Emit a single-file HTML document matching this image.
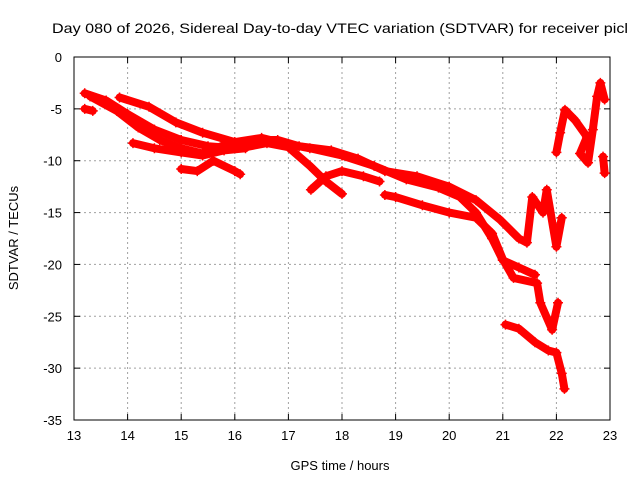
<!DOCTYPE html>
<html><head><meta charset="utf-8"><style>
body{margin:0;background:#fff;width:640px;height:480px;overflow:hidden}
svg{font-family:"Liberation Sans",sans-serif}
</style></head><body>
<svg id="c" width="640" height="480">
<text x="52" y="33" font-size="14" textLength="576" lengthAdjust="spacingAndGlyphs">Day 080 of 2026, Sidereal Day-to-day VTEC variation (SDTVAR) for receiver picl</text>
<text x="340" y="470" font-size="13" text-anchor="middle">GPS time / hours</text>
<text x="18" y="238" font-size="13" text-anchor="middle" transform="rotate(-90 18 238)">SDTVAR / TECUs</text>
<g id="grid"></g>
<g id="axes"></g>
<g id="marks"></g>
</svg>
<script>
const xTicks=[13,14,15,16,17,18,19,20,21,22,23];
const yTicks=[0,-5,-10,-15,-20,-25,-30,-35];
const s1=[[13.2,-3.5],[13.6,-4.2],[14.0,-5.5],[14.5,-7.0],[15.0,-8.0],[15.5,-8.6],[16.0,-8.8],[16.4,-8.0],[16.8,-8.0],[17.2,-8.6],[17.8,-9.0],[18.3,-9.8],[18.8,-11.0],[19.4,-11.5],[20.0,-12.5],[20.5,-13.8],[20.95,-15.7],[21.3,-17.5],[21.45,-17.9],[21.55,-13.5],[21.75,-15],[21.82,-12.8],[22.0,-18.3],[22.1,-15.5]];
const s2=[[13.85,-3.9],[14.4,-4.8],[14.9,-6.3],[15.4,-7.3],[16.0,-8.2],[16.5,-7.8],[16.9,-8.3],[17.4,-8.8],[18.0,-9.5],[18.6,-10.5],[19.2,-11.8],[19.8,-12.6],[20.2,-13.5],[20.5,-15.0],[20.8,-17.5],[21.0,-19.6],[21.3,-20.3],[21.6,-21.0]];
const s3=[[13.3,-3.8],[13.8,-5.2],[14.2,-6.8],[14.6,-8.0],[15.0,-8.8],[15.4,-9.3],[15.8,-8.5],[16.2,-8.7],[16.6,-8.3],[17.0,-8.7],[17.4,-10.5],[17.7,-12.0],[18.0,-13.2]];
const s4=[[14.1,-8.3],[14.5,-8.8],[15.0,-9.2],[15.4,-9.5],[15.8,-9.0],[16.2,-8.8]];
const s5=[[15.0,-10.8],[15.3,-11.0],[15.6,-10.0],[16.0,-11.0],[16.1,-11.3]];
const s6=[[17.42,-12.8],[17.7,-11.5],[18.0,-11.0],[18.4,-11.5],[18.7,-12.0]];
const s7=[[18.8,-13.3],[19.0,-13.5],[19.5,-14.3],[20.0,-15.0],[20.5,-15.5],[20.8,-17.0],[21.0,-19.5],[21.2,-21.3],[21.64,-21.8],[21.7,-23.7],[21.92,-26.3],[22.03,-23.7]];
const s8=[[21.05,-25.8],[21.3,-26.2],[21.6,-27.5],[21.85,-28.3],[22.0,-28.5],[22.1,-30.5],[22.15,-32.0]];
const s9=[[13.2,-5.0],[13.35,-5.2]];
const s10=[[22.0,-9.2],[22.07,-7.3],[22.16,-5.1],[22.35,-6.1],[22.57,-7.7],[22.44,-9.3],[22.59,-10.2],[22.68,-7.0],[22.76,-3.8],[22.82,-2.5],[22.9,-4.1]];
const s11=[[22.87,-9.6],[22.9,-11.2]];
const series=[s1,s2,s3,s4,s5,s6,s7,s8,s9,s10,s11];
const X0=74,X1=610,Y0=57,Y1=420;
const xs=h=>X0+(h-13)/10*(X1-X0);
const ys=v=>Y0+(-v)/35*(Y1-Y0);
const NS="http://www.w3.org/2000/svg";
function mk(t,a,p){const e=document.createElementNS(NS,t);for(const k in a)e.setAttribute(k,a[k]);p.appendChild(e);return e;}
const grid=document.getElementById('grid'),axes=document.getElementById('axes'),marks=document.getElementById('marks');
xTicks.forEach(t=>{const x=xs(t);
 if(t>13&&t<23){const l=mk('line',{x1:x,x2:x,y1:Y0,y2:Y1,stroke:'#a0a0a0','stroke-dasharray':'2,3'},grid);
 
 }
 mk('line',{x1:x,x2:x,y1:Y1,y2:Y1-6,stroke:'#000'},axes);
 mk('line',{x1:x,x2:x,y1:Y0,y2:Y0+6,stroke:'#000'},axes);
 const tx=mk('text',{x:x,y:Y1+20,'font-size':13,'text-anchor':'middle'},axes);tx.textContent=t;
 
 });
yTicks.forEach(t=>{const y=ys(t);
 if(t<0&&t>-35){const l=mk('line',{x1:X0,x2:X1,y1:y,y2:y,stroke:'#a0a0a0','stroke-dasharray':'2,3'},grid);
 
 }
 mk('line',{x1:X0,x2:X0+6,y1:y,y2:y,stroke:'#000'},axes);
 mk('line',{x1:X1,x2:X1-6,y1:y,y2:y,stroke:'#000'},axes);
 const tx=mk('text',{x:X0-12,y:y+5,'font-size':13,'text-anchor':'end'},axes);tx.textContent=t;
 
 });
mk('rect',{x:X0,y:Y0,width:X1-X0,height:Y1-Y0,fill:'none',stroke:'#000'},axes);
series.forEach(s=>{
 const pl=mk('polyline',{points:s.map(p=>xs(p[0])+','+ys(p[1])).join(' '),fill:'none',stroke:'#f00','stroke-width':8,'stroke-linejoin':'round','stroke-linecap':'round'},marks);
 
 
 s.forEach(p=>{const x=xs(p[0]),y=ys(p[1]);
  const m=mk('path',{d:`M${x-5},${y}H${x+5}M${x},${y-5}V${y+5}`,stroke:'#f00','stroke-width':1.5},marks);
  
  });
});
</script>
</body></html>
